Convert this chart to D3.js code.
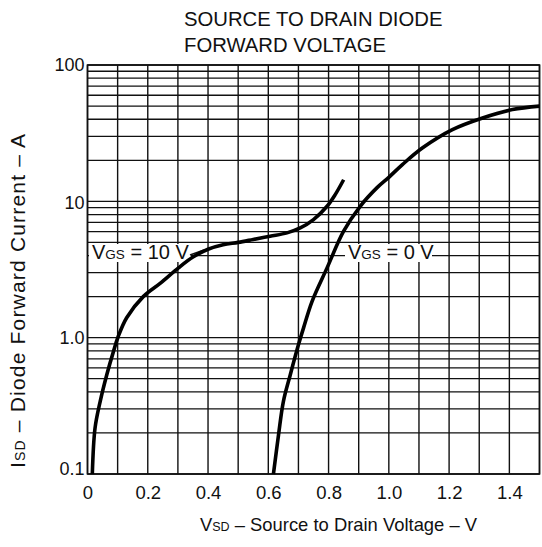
<!DOCTYPE html>
<html>
<head>
<meta charset="utf-8">
<script src="https://cdn.jsdelivr.net/npm/d3@7"></script>
<style>
  html, body { margin: 0; padding: 0; background: #fff; }
  svg { display: block; }
  text { font-family: "Liberation Sans", Arial, Helvetica, sans-serif; fill: #111; }
</style>
</head>
<body>
<svg id="chart" width="542" height="547"></svg>
<script>
// ---- data ----
const titleLines = ["SOURCE TO DRAIN DIODE", "FORWARD VOLTAGE"];
const xTickValues = [0, 0.2, 0.4, 0.6, 0.8, 1.0, 1.2, 1.4];
const xTickLabels = ["0", "0.2", "0.4", "0.6", "0.8", "1.0", "1.2", "1.4"];
const yTickValues = [0.1, 1, 10, 100];
const yTickLabels = ["0.1", "1.0", "10", "100"];

// V_GS = 10 V curve
const vgs10Volts = [0.016, 0.025, 0.042, 0.064, 0.086, 0.102, 0.13, 0.185, 0.241, 0.302, 0.35, 0.4, 0.45, 0.5, 0.55, 0.606, 0.662, 0.706, 0.75, 0.795, 0.822, 0.85];
const vgs10Amps  = [0.1, 0.217, 0.34, 0.535, 0.79, 1.02, 1.4, 2.0, 2.5, 3.25, 3.9, 4.45, 4.8, 5.0, 5.25, 5.55, 5.87, 6.38, 7.35, 9.2, 11.2, 14.4];

// V_GS = 0 V curve
const vgs0Volts = [0.617, 0.634, 0.65, 0.673, 0.7, 0.717, 0.745, 0.795, 0.85, 0.905, 0.961, 1.0, 1.045, 1.111, 1.211, 1.311, 1.41, 1.5];
const vgs0Amps  = [0.1, 0.194, 0.34, 0.535, 0.886, 1.18, 1.84, 3.25, 6.04, 9.2, 12.6, 15.0, 18.6, 24.6, 33.6, 40.9, 47.1, 49.9];

// ---- layout ----
const svg = d3.select("#chart");
const L = 87.5, R = 539.5, T = 65, B = 474;

const x = d3.scaleLinear().domain([0, 1.5]).range([L, R]);
const y = d3.scaleLog().domain([0.1, 100]).range([B, T]);

// grid
const xGrid = d3.range(0, 16).map(i => i / 10);
const yGrid = [];
[0.1, 1, 10].forEach(d => { for (let k = 1; k <= 9; k++) yGrid.push(d * k); });
yGrid.push(100);

const grid = svg.append("g");
grid.selectAll("line.v").data(xGrid).join("line")
  .attr("x1", d => x(d)).attr("x2", d => x(d))
  .attr("y1", T).attr("y2", B)
  .attr("stroke", "#111").attr("stroke-width", 1.4);
grid.selectAll("line.h").data(yGrid).join("line")
  .attr("x1", L).attr("x2", R)
  .attr("y1", d => y(d)).attr("y2", d => y(d))
  .attr("stroke", "#111").attr("stroke-width", 1.3);

svg.append("rect").attr("x", L).attr("y", T).attr("width", R - L).attr("height", B - T)
  .attr("fill", "none").attr("stroke", "#111").attr("stroke-width", 1.6);

// axes (labels only, through d3 axes)
const xAxis = d3.axisBottom(x).tickValues(xTickValues)
  .tickFormat((d, i) => xTickLabels[i]).tickSize(0).tickPadding(12);
const gx = svg.append("g").attr("transform", `translate(0,${B})`).call(xAxis);
gx.select(".domain").remove();
gx.selectAll("text").attr("font-size", 18.5).style("font-family", "Liberation Sans, Arial, sans-serif").attr("fill", "#111");

const yAxis = d3.axisLeft(y).tickValues(yTickValues)
  .tickFormat((d, i) => yTickLabels[i]).tickSize(0).tickPadding(3);
const gy = svg.append("g").attr("transform", `translate(${L},0)`).call(yAxis);
gy.select(".domain").remove();
gy.selectAll("text").attr("font-size", 18).style("font-family", "Liberation Sans, Arial, sans-serif").attr("fill", "#111");
gy.selectAll(".tick").filter(d => d === 0.1).select("text").attr("dy", "0.05em");
gy.selectAll(".tick").filter(d => d === 10).select("text").attr("dy", "0.42em");

// curves
const line = d3.line().x(d => x(d[0])).y(d => y(d[1])).curve(d3.curveCatmullRom.alpha(0.5));
const s10 = vgs10Volts.map((v, i) => [v, vgs10Amps[i]]);
const s0 = vgs0Volts.map((v, i) => [v, vgs0Amps[i]]);

// labels with white background
function label(xStart, xEnd, yMid, parts) {
  svg.append("rect").attr("x", xStart).attr("y", yMid - 8).attr("width", xEnd - xStart).attr("height", 18)
    .attr("fill", "#fff");
  const t = svg.append("text").attr("x", xStart + 3).attr("y", yMid + 7).attr("font-size", 20);
  parts.forEach(p => t.append("tspan").text(p[0]).attr("font-size", p[1]));
}
label(89, 191, 252, [["V", 20], ["GS", 13.5], [" = 10 V", 20]]);
label(345, 432, 252, [["V", 20], ["GS", 13.5], [" = 0 V", 20]]);

// leader line
svg.append("line").attr("x1", 190).attr("x2", 204).attr("y1", 255).attr("y2", 250)
  .attr("stroke", "#111").attr("stroke-width", 1.4);

svg.append("path").datum(s10).attr("d", line).attr("fill", "none")
  .attr("stroke", "#000").attr("stroke-width", 3.6).attr("stroke-linecap", "butt");
svg.append("path").datum(s0).attr("d", line).attr("fill", "none")
  .attr("stroke", "#000").attr("stroke-width", 3.6).attr("stroke-linecap", "butt");

// title
svg.selectAll("text.title").data(titleLines).join("text")
  .attr("class", "title")
  .attr("x", 184).attr("y", (d, i) => 26 + i * 26)
  .attr("font-size", 20.3)
  .text(d => d);

// x axis title
const xt = svg.append("text").attr("x", 338.5).attr("y", 531).attr("text-anchor", "middle").attr("font-size", 18.4);
xt.append("tspan").text("V");
xt.append("tspan").text("SD").attr("font-size", 12.5);
xt.append("tspan").text(" – Source to Drain Voltage – V");

// y axis title
const yt = svg.append("text").attr("transform", "translate(25,468) rotate(-90)")
  .attr("text-anchor", "start").attr("font-size", 21)
  .attr("textLength", 334).attr("lengthAdjust", "spacing");
yt.append("tspan").text("I");
yt.append("tspan").text("SD").attr("font-size", 14);
yt.append("tspan").text(" – Diode Forward Current – A");
</script>
</body>
</html>
